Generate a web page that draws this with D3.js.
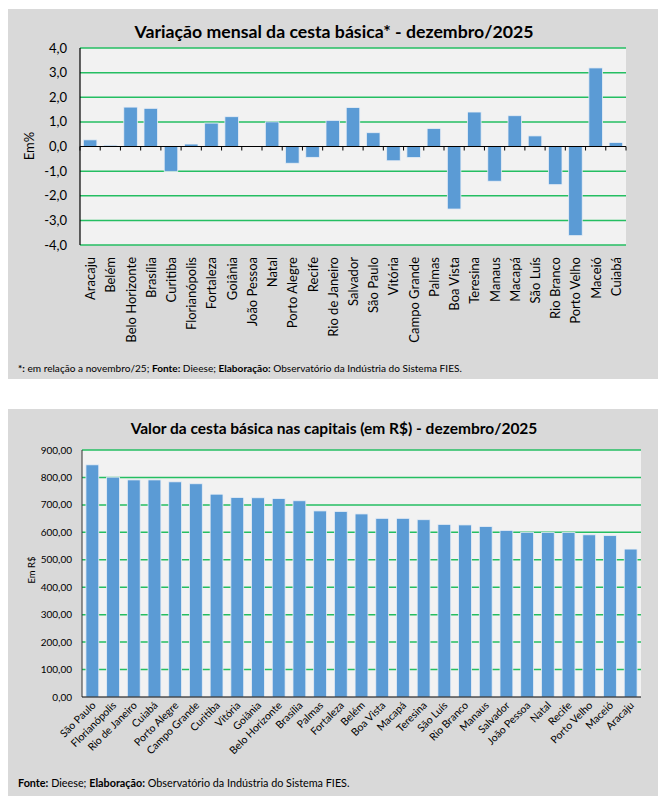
<!DOCTYPE html>
<head>
    <meta charset="utf-8">
    <title>Cesta básica - dezembro/2025</title>
    <style>
        body { margin: 0; background: #fff; }
        text { font-family: Lato, "Open Sans", sans-serif; fill: #000; }
    </style>
</head>
<body>

<script src="https://d3js.org/d3.v7.min.js"></script>

<script>
// variação mensal (%) por capital
let cidadesVar = ["Aracaju", "Belém", "Belo Horizonte", "Brasília", "Curitiba", "Florianópolis",
    "Fortaleza", "Goiânia", "João Pessoa", "Natal", "Porto Alegre", "Recife", "Rio de Janeiro",
    "Salvador", "São Paulo", "Vitória", "Campo Grande", "Palmas", "Boa Vista", "Teresina",
    "Manaus", "Macapá", "São Luís", "Rio Branco", "Porto Velho", "Maceió", "Cuiabá"];
let variacao = [0.27, 0.05, 1.60, 1.55, -1.01, 0.10, 0.95, 1.21, 0.0, 1.00, -0.68, -0.44, 1.06,
    1.58, 0.56, -0.58, -0.45, 0.73, -2.54, 1.40, -1.41, 1.25, 0.43, -1.55, -3.62, 3.19, 0.16];
let ticksVar = [-4, -3, -2, -1, 0, 1, 2, 3, 4];

// valor da cesta (R$) por capital
let cidadesValor = ["São Paulo", "Florianópolis", "Rio de Janeiro", "Cuiabá", "Porto Alegre",
    "Campo Grande", "Curitiba", "Vitória", "Goiânia", "Belo Horizonte", "Brasília", "Palmas",
    "Fortaleza", "Belém", "Boa Vista", "Macapá", "Teresina", "São Luís", "Rio Branco", "Manaus",
    "Salvador", "João Pessoa", "Natal", "Recife", "Porto Velho", "Maceió", "Aracaju"];
let valores = [846, 801, 791, 791, 784, 777, 739, 727, 726, 723, 715, 678, 676, 667, 651, 651,
    646, 629, 627, 621, 607, 600, 599, 599, 591, 588, 539];
let ticksValor = [0, 100, 200, 300, 400, 500, 600, 700, 800, 900];

let br = d3.formatLocale({decimal: ",", thousands: ".", grouping: [3], currency: ["R$", ""], minus: "-"});
let fmt1 = br.format(".1f");
let fmt2 = br.format(".2f");

let width = 661, height = 804;
let barColor = "#5B9BD5";
let gridColor = "#25BE62";

let svg = d3.select("body").append("svg")
    .attr("width", width)
    .attr("height", height);

// ---------- painel 1 ----------
let p1 = svg.append("g");
p1.append("rect").attr("x", 8).attr("y", 9).attr("width", 650).attr("height", 370).attr("fill", "#D9D9D9");

let x1 = d3.scaleBand().domain(cidadesVar).range([80, 626]).paddingInner(0.33).paddingOuter(0.165);
let y1 = d3.scaleLinear().domain([-4, 4]).range([245, 48]);

p1.append("rect").attr("x", 80).attr("y", 48).attr("width", 546).attr("height", 197).attr("fill", "#F2F2F2");

p1.selectAll(".grid")
    .data(ticksVar.filter(d => d !== 0))
    .join("line")
    .attr("x1", 80).attr("x2", 626)
    .attr("y1", d => y1(d)).attr("y2", d => y1(d))
    .attr("stroke", gridColor).attr("stroke-width", 1.5);

p1.selectAll(".bar")
    .data(variacao)
    .join("rect")
    .attr("x", (d, i) => x1(cidadesVar[i]))
    .attr("width", x1.bandwidth())
    .attr("y", d => y1(Math.max(0, d)))
    .attr("height", d => Math.abs(y1(d) - y1(0)))
    .attr("fill", barColor)
    .attr("stroke", "#E8EEF5").attr("stroke-width", 0.8);

// eixo y
p1.append("line").attr("x1", 80).attr("x2", 80).attr("y1", 48).attr("y2", 245).attr("stroke", "#000").attr("stroke-width", 1.2);
p1.selectAll(".ylab")
    .data(ticksVar)
    .join("text")
    .attr("x", 67).attr("y", d => y1(d)).attr("dy", "0.35em")
    .attr("text-anchor", "end").style("font-size", "13px")
    .text(d => fmt1(d));

// linha do zero com marcas entre categorias
p1.append("line").attr("x1", 80).attr("x2", 626).attr("y1", y1(0)).attr("y2", y1(0)).attr("stroke", "#000").attr("stroke-width", 1.2);
let step1 = x1.step();
p1.selectAll(".tick0")
    .data(d3.range(cidadesVar.length + 1))
    .join("line")
    .attr("x1", i => 80 + i * step1).attr("x2", i => 80 + i * step1)
    .attr("y1", y1(0)).attr("y2", y1(0) + 4)
    .attr("stroke", "#000").attr("stroke-width", 1);

p1.selectAll(".xlab")
    .data(cidadesVar)
    .join("text")
    .attr("transform", d => `translate(${x1(d) + x1.bandwidth() / 2 + 5},257) rotate(-90)`)
    .attr("text-anchor", "end").style("font-size", "13px")
    .text(d => d);

p1.append("text")
    .attr("transform", "translate(34,146) rotate(-90)")
    .attr("text-anchor", "middle").style("font-size", "13px")
    .text("Em%");

p1.append("text")
    .attr("x", 334).attr("y", 38)
    .attr("text-anchor", "middle").style("font-size", "17.7px").style("font-weight", "bold")
    .text("Variação mensal da cesta básica* - dezembro/2025");

let nota1 = p1.append("text").attr("x", 18).attr("y", 372).style("font-size", "10.1px");
nota1.append("tspan").style("font-weight", "bold").text("*:");
nota1.append("tspan").text(" em relação a novembro/25; ");
nota1.append("tspan").style("font-weight", "bold").text("Fonte:");
nota1.append("tspan").text(" Dieese; ");
nota1.append("tspan").style("font-weight", "bold").text("Elaboração:");
nota1.append("tspan").text(" Observatório da Indústria do Sistema FIES.");

// ---------- painel 2 ----------
let p2 = svg.append("g");
p2.append("rect").attr("x", 8).attr("y", 409).attr("width", 650).attr("height", 387).attr("fill", "#D9D9D9");

let x2 = d3.scaleBand().domain(cidadesValor).range([82, 641]).paddingInner(0.38).paddingOuter(0.19);
let y2 = d3.scaleLinear().domain([0, 900]).range([697, 450]);

p2.append("rect").attr("x", 82).attr("y", 450).attr("width", 559).attr("height", 247).attr("fill", "#F2F2F2");

p2.selectAll(".grid")
    .data(ticksValor.filter(d => d > 0))
    .join("line")
    .attr("x1", 82).attr("x2", 641)
    .attr("y1", d => y2(d)).attr("y2", d => y2(d))
    .attr("stroke", gridColor).attr("stroke-width", 1.5);

p2.selectAll(".bar")
    .data(valores)
    .join("rect")
    .attr("x", (d, i) => x2(cidadesValor[i]))
    .attr("width", x2.bandwidth())
    .attr("y", d => y2(d))
    .attr("height", d => y2(0) - y2(d))
    .attr("fill", barColor)
    .attr("stroke", "#E8EEF5").attr("stroke-width", 0.8);

p2.append("line").attr("x1", 82).attr("x2", 82).attr("y1", 450).attr("y2", 697).attr("stroke", "#333").attr("stroke-width", 1);
p2.append("line").attr("x1", 82).attr("x2", 641).attr("y1", 697).attr("y2", 697).attr("stroke", "#000").attr("stroke-width", 1.2);

p2.selectAll(".ylab")
    .data(ticksValor)
    .join("text")
    .attr("x", 72).attr("y", d => y2(d)).attr("dy", "0.35em")
    .attr("text-anchor", "end").style("font-size", "10px")
    .text(d => fmt2(d));

p2.selectAll(".xlab")
    .data(cidadesValor)
    .join("text")
    .attr("transform", d => `translate(${x2(d) + x2.bandwidth() / 2 + 4},706) rotate(-45)`)
    .attr("text-anchor", "end").style("font-size", "10.5px")
    .text(d => d);

p2.append("text")
    .attr("transform", "translate(35,570) rotate(-90)")
    .attr("text-anchor", "middle").style("font-size", "9.5px")
    .text("Em R$");

p2.append("text")
    .attr("x", 334).attr("y", 434)
    .attr("text-anchor", "middle").style("font-size", "15.5px").style("font-weight", "bold")
    .text("Valor da cesta básica nas capitais (em R$) - dezembro/2025");

let nota2 = p2.append("text").attr("x", 18).attr("y", 787).style("font-size", "10.8px");
nota2.append("tspan").style("font-weight", "bold").text("Fonte:");
nota2.append("tspan").text(" Dieese; ");
nota2.append("tspan").style("font-weight", "bold").text("Elaboração:");
nota2.append("tspan").text(" Observatório da Indústria do Sistema FIES.");
</script>

</body>
